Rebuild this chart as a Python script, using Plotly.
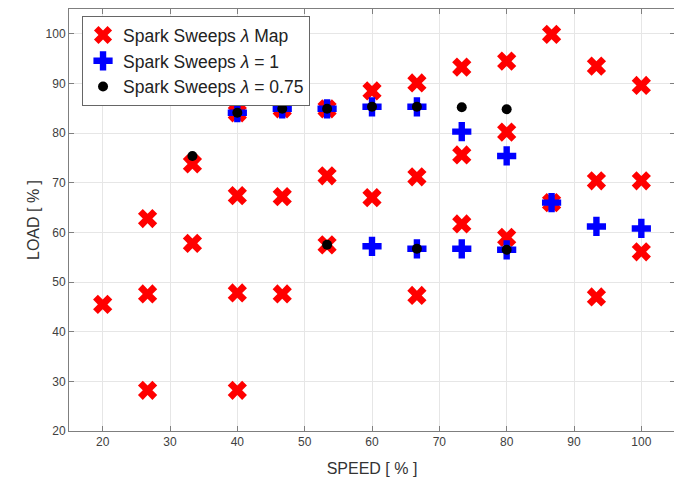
import plotly.graph_objects as go

# Spark Sweeps lambda Map
map_speed = [20, 26.67, 26.67, 26.67, 33.33, 33.33, 40, 40, 40, 40,
             46.67, 46.67, 46.67, 53.33, 53.33, 53.33, 60, 60,
             66.67, 66.67, 66.67, 73.33, 73.33, 73.33, 80, 80, 80,
             86.67, 86.67, 93.33, 93.33, 93.33, 100, 100, 100]
map_load = [45.5, 62.8, 47.6, 28.2, 73.8, 57.8, 84.1, 67.4, 47.8, 28.2,
            84.9, 67.2, 47.6, 84.9, 71.4, 57.5, 88.5, 67.0,
            90.1, 71.2, 47.3, 93.3, 75.6, 61.7, 94.5, 80.2, 59.0,
            99.9, 66.0, 93.5, 70.4, 47.0, 89.6, 70.4, 56.1]

# Spark Sweeps lambda = 1
l1_speed = [40, 46.67, 53.33, 60, 60, 66.67, 66.67, 73.33, 73.33, 80, 80, 86.67, 93.33, 100]
l1_load = [84.1, 84.9, 84.9, 85.3, 57.2, 85.3, 56.7, 80.3, 56.7, 75.4, 56.5, 66.0, 61.2, 60.8]

# Spark Sweeps lambda = 0.75
l075_speed = [33.33, 40, 46.67, 53.33, 53.33, 60, 66.67, 66.67, 73.33, 80, 80]
l075_load = [75.4, 84.1, 84.9, 84.9, 57.5, 85.3, 85.3, 56.7, 85.2, 84.8, 56.5]

x_ticks = [20, 30, 40, 50, 60, 70, 80, 90, 100]
y_ticks = [20, 30, 40, 50, 60, 70, 80, 90, 100]

FONT = "Liberation Sans, Arial, sans-serif"

fig = go.Figure()
fig.add_trace(go.Scatter(
    x=map_speed, y=map_load, mode="markers",
    name="Spark Sweeps <i>λ</i> Map",
    marker=dict(symbol="x", size=17, color="#ff0000", line=dict(width=0)),
))
fig.add_trace(go.Scatter(
    x=l1_speed, y=l1_load, mode="markers",
    name="Spark Sweeps <i>λ</i> = 1",
    marker=dict(symbol="cross", size=16, color="#0000ff", line=dict(width=0)),
))
fig.add_trace(go.Scatter(
    x=l075_speed, y=l075_load, mode="markers",
    name="Spark Sweeps <i>λ</i> = 0.75",
    marker=dict(symbol="circle", size=10, color="#000000", line=dict(width=0)),
))

axis_common = dict(
    showgrid=True, gridcolor="#e6e6e6", gridwidth=1,
    zeroline=False, showline=True, linecolor="#7f7f7f", linewidth=1,
    mirror="ticks", ticks="inside", ticklen=5, tickcolor="#7f7f7f",
    tickfont=dict(family=FONT, size=12, color="#404040"),
    automargin=False,
)

fig.update_xaxes(
    range=[15, 105], tickmode="array", tickvals=x_ticks,
    title=dict(text="SPEED [ % ]", font=dict(family=FONT, size=16, color="#333333"), standoff=14),
    **axis_common,
)
fig.update_yaxes(
    range=[20, 105], tickmode="array", tickvals=y_ticks,
    title=dict(text="LOAD [ % ]", font=dict(family=FONT, size=16, color="#333333"), standoff=1),
    **axis_common,
)

fig.update_layout(
    width=674, height=476,
    margin=dict(l=61, r=7, t=1, b=53),
    plot_bgcolor="white", paper_bgcolor="white",
    showlegend=True,
    legend=dict(
        x=0.0215, y=0.983, xanchor="left", yanchor="top",
        bgcolor="white", bordercolor="#666666", borderwidth=1,
        font=dict(family=FONT, size=17.5, color="#222222"),
        tracegroupgap=0, itemsizing="trace",
    ),
)

fig.write_html("out.html")
